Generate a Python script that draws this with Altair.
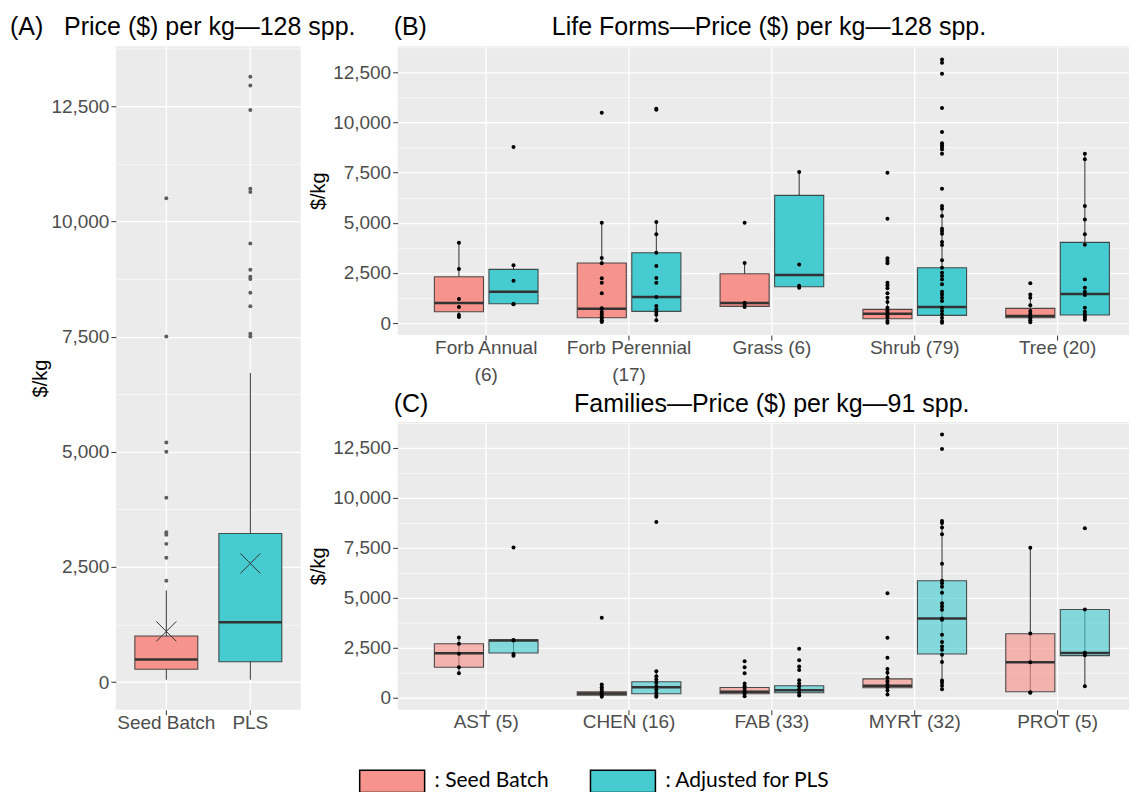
import altair as alt
import pandas as pd

FONT = "Liberation Sans"
GROUPS = ["Seed Batch", "PLS"]
FILLS = ["#F5938C", "#46CCD0"]
Y_TICKS = [0, 1250, 2500, 3750, 5000, 6250, 7500, 8750, 10000, 11250, 12500, 13750]
Y_DOMAIN = [-600, 13800]

# ---------------- Panel A: all species ----------------
A_Q1 = [280, 440]
A_MED = [490, 1300]
A_Q3 = [1000, 3225]
A_LO = [50, 50]
A_HI = [1990, 6710]
A_MEAN = [1100, 2575]
A_SEED_OUT = [2200, 2700, 3000, 3200, 3250, 4000, 5000, 5200, 7500, 10500]
A_PLS_OUT = [7500, 7560, 8160, 8450, 8750, 8800, 8950, 9520, 10640, 10710, 12420, 12950, 13140]

# ---------------- Panel B: life forms ----------------
LIFE_FORMS = ["Forb Annual (6)", "Forb Perennial (17)", "Grass (6)", "Shrub (79)", "Tree (20)"]
B_SEED_Q1 = [563, 264, 831, 216, 266]
B_SEED_MED = [1000, 713, 997, 465, 349]
B_SEED_Q3 = [2309, 2992, 2458, 682, 731]
B_SEED_LO = [300, 50, 798, 17, 33]
B_SEED_HI = [4000, 5000, 2992, 1263, 1263]
B_PLS_Q1 = [962, 583, 1811, 382, 399]
B_PLS_MED = [1561, 1296, 2393, 798, 1446]
B_PLS_Q3 = [2677, 3505, 6367, 2759, 4024]
B_PLS_LO = [932, 133, 1762, 17, 166]
B_PLS_HI = [2876, 5036, 7529, 5834, 8443]
B_SEED_PTS = [
    [4000, 2700, 1200, 800, 400, 300],
    [10486, 5000, 3241, 2976, 2229, 2010, 1481, 733, 563, 432, 300, 264, 133, 100, 50],
    [5000, 2992, 1012, 912, 798],
    [7494, 5201, 3226, 3091, 2977, 2010, 1880, 1730, 1481, 1263, 1047, 763, 650, 598, 500,
     432, 350, 264, 100, 17],
    [1978, 1429, 1263, 881, 598, 465, 349, 234, 133, 33],
]
B_PLS_PTS = [
    [8775, 2876, 2109, 950, 932],
    [10686, 10636, 5036, 4422, 3505, 2842, 2244, 2010, 1296, 848, 683, 548, 414, 133],
    [7529, 2925, 1861, 1762],
    [13148, 12981, 12432, 10720, 9523, 8960, 8860, 8775, 8660, 8443, 6697, 5834, 5700, 5335,
     4703, 4587, 4454, 4039, 3889, 3125, 2759, 2509, 2343, 2177, 1928, 1562, 1429, 1263,
     1097, 763, 598, 432, 264, 100, 17],
    [8443, 8162, 5834, 5169, 4422, 3905, 2177, 1762, 1562, 1396, 763, 563, 432, 349, 264, 166],
]

# ---------------- Panel C: families ----------------
FAMILIES = ["AST (5)", "CHEN (16)", "FAB (33)", "MYRT (32)", "PROT (5)"]
C_SEED_Q1 = [1524, 131, 199, 498, 299]
C_SEED_MED = [2221, 214, 299, 597, 1773]
C_SEED_Q3 = [2704, 299, 513, 946, 3202]
C_SEED_LO = [1225, 50, 80, 164, 249]
C_SEED_HI = [3018, 528, 712, 1444, 7500]
C_PLS_Q1 = [2241, 199, 249, 2191, 2107]
C_PLS_MED = [2869, 528, 380, 3964, 2241]
C_PLS_Q3 = [2903, 797, 597, 5857, 4412]
C_PLS_LO = [2107, 50, 115, 428, 578]
C_PLS_HI = [2903, 1325, 877, 8845, 4412]
C_SEED_PTS = [
    [3018, 2704, 2206, 1524, 1225],
    [3999, 662, 528, 413, 314, 214, 115, 50],
    [1823, 1524, 1225, 712, 578, 448, 329, 214, 80],
    [5229, 3003, 2007, 1444, 1245, 996, 827, 662, 528, 364, 164],
    [7500, 3217, 1773, 279, 249],
]
C_PLS_PTS = [
    [7520, 2888, 2870, 2191, 2107],
    [8795, 1325, 1076, 911, 747, 578, 413, 249, 115, 50],
    [2455, 1873, 1559, 1394, 877, 712, 578, 413, 249, 115],
    [13177, 12450, 8845, 8745, 8516, 8182, 6703, 5857, 5724, 5558, 5259, 4731, 4565, 4398,
     3964, 3899, 3152, 2789, 2570, 2405, 2156, 1793, 862, 747, 598, 428],
    [8481, 4412, 2256, 2122, 578],
]


def box_table(cats, seed, pls):
    rows = []
    for i, c in enumerate(cats):
        for g, st in zip(GROUPS, (seed, pls)):
            rows.append({"cat": c, "grp": g, "q1": st[0][i], "med": st[1][i],
                         "q3": st[2][i], "lo": st[3][i], "hi": st[4][i]})
    return pd.DataFrame(rows)


def point_table(cats, seed_pts, pls_pts):
    rows = []
    for i, c in enumerate(cats):
        for g, pts in zip(GROUPS, (seed_pts, pls_pts)):
            for v in pts[i]:
                rows.append({"cat": c, "grp": g, "value": v})
    return pd.DataFrame(rows)


color_scale = alt.Scale(domain=GROUPS, range=FILLS)
major = "datum.value % 2500 === 0"


def make_y_axis(title_padding):
    return alt.Axis(
        title="$/kg", values=Y_TICKS,
        labelExpr=f"{major} ? format(datum.value, ',') : ''",
        grid=True, gridColor="white",
        gridWidth={"condition": {"test": major, "value": 1.3}, "value": 0.6},
        tickOpacity={"condition": {"test": major, "value": 1}, "value": 0},
        titlePadding=title_padding,
    )


def yenc(field, axis):
    return alt.Y(f"{field}:Q", scale=alt.Scale(domain=Y_DOMAIN, nice=False, zero=False),
                 axis=axis)


# ---------------- build panel A ----------------
a_box = pd.DataFrame({"grp": GROUPS, "q1": A_Q1, "med": A_MED, "q3": A_Q3,
                      "lo": A_LO, "hi": A_HI, "mean": A_MEAN})
a_pts = pd.DataFrame({"grp": ["Seed Batch"] * len(A_SEED_OUT) + ["PLS"] * len(A_PLS_OUT),
                      "value": A_SEED_OUT + A_PLS_OUT})

legend = alt.Legend(
    title=None, orient="none", legendX=243, legendY=702, direction="horizontal",
    symbolType="M-1,-0.34H1V0.34H-1Z", symbolSize=4225, symbolStrokeColor="black",
    symbolStrokeWidth=1.5, symbolOpacity=1, labelFont="Lato", labelFontSize=21,
    labelColor="black", labelOffset=9, columnPadding=38, labelLimit=0,
    labelExpr="datum.label === 'Seed Batch' ? ': Seed Batch' : ': Adjusted for PLS'",
)

yA = make_y_axis(0)
xA = alt.X("grp:N", sort=GROUPS, scale=alt.Scale(paddingInner=0, paddingOuter=0.1),
           axis=alt.Axis(title=None, labelAngle=0, grid=True, gridColor="white", gridWidth=1.3,
                         labelPadding=-1))
baseA = alt.Chart(a_box).encode(x=xA)
whiskA = baseA.mark_rule(color="#333333", strokeWidth=1).encode(y=yenc("lo", yA), y2="hi")
boxA = baseA.mark_bar(size=63, stroke="#333333", strokeWidth=1.1, strokeOpacity=0.85).encode(
    y=yenc("q1", yA), y2="q3", color=alt.Color("grp:N", scale=color_scale, legend=legend))
medA = baseA.mark_tick(size=63, thickness=2.5, color="#333333", opacity=1).encode(
    y=yenc("med", yA))
meanA = baseA.mark_point(shape="M-1,-1L1,1M-1,1L1,-1", size=400, color="#333333",
                         strokeWidth=1, filled=False, opacity=1).encode(y=yenc("mean", yA))
outA = alt.Chart(a_pts).mark_circle(color="#5E5E5E", size=16, opacity=1).encode(
    x=xA, y=yenc("value", yA))

NB = "\u00a0"
panelA = alt.layer(whiskA, boxA, medA, meanA, outA).properties(
    width=185, height=664,
    title=alt.TitleParams("(A)" + NB * 3 + "Price ($) per kg\u2014128 spp.", anchor="start",
                          frame="group", dx=-106, offset=6),
)


def grouped_panel(box_df, pts_df, cats, title, fill_opacity, label_expr, height, toff):
    ax_kw = dict(title=None, labelAngle=0, grid=True, gridColor="white", gridWidth=1.3,
                 labelPadding=-2)
    if label_expr:
        ax_kw.update(labelExpr=label_expr, labelLineHeight=27)
    yax = make_y_axis(4)
    x = alt.X("cat:N", sort=cats, scale=alt.Scale(paddingInner=0, paddingOuter=0.06, align=1),
              axis=alt.Axis(**ax_kw))
    xo = alt.XOffset("grp:N", sort=GROUPS,
                     scale=alt.Scale(domain=GROUPS, paddingInner=0.1, paddingOuter=0.359))
    base = alt.Chart(box_df).encode(x=x, xOffset=xo)
    whisk = base.mark_rule(color="#333333", strokeWidth=1).encode(y=yenc("lo", yax), y2="hi")
    box = base.mark_bar(stroke="#333333", strokeWidth=1.1, strokeOpacity=0.85,
                        fillOpacity=fill_opacity).encode(
        y=yenc("q1", yax), y2="q3", color=alt.Color("grp:N", scale=color_scale, legend=None))
    med = base.mark_tick(size=49, thickness=2.5, color="#333333", opacity=1).encode(
        y=yenc("med", yax))
    pts = alt.Chart(pts_df).mark_circle(color="black", size=16, opacity=1).encode(
        x=x, xOffset=xo, y=yenc("value", yax))
    return alt.layer(whisk, box, med, pts).properties(
        width=732, height=height,
        title=alt.TitleParams(title, anchor="start", frame="group", dx=-4, offset=toff))


b_box = box_table(LIFE_FORMS, (B_SEED_Q1, B_SEED_MED, B_SEED_Q3, B_SEED_LO, B_SEED_HI),
                  (B_PLS_Q1, B_PLS_MED, B_PLS_Q3, B_PLS_LO, B_PLS_HI))
b_pts = point_table(LIFE_FORMS, B_SEED_PTS, B_PLS_PTS)
c_box = box_table(FAMILIES, (C_SEED_Q1, C_SEED_MED, C_SEED_Q3, C_SEED_LO, C_SEED_HI),
                  (C_PLS_Q1, C_PLS_MED, C_PLS_Q3, C_PLS_LO, C_PLS_HI))
c_pts = point_table(FAMILIES, C_SEED_PTS, C_PLS_PTS)

panelB = grouped_panel(
    b_box, b_pts, LIFE_FORMS,
    "(B)" + NB * 18 + "Life Forms\u2014Price ($) per kg\u2014128 spp.", 1.0,
    "indexof(datum.label, 'Forb') === 0 ? split(replace(datum.label, ' (', '|('), '|') : datum.label",
    289, 6)
panelC = grouped_panel(
    c_box, c_pts, FAMILIES,
    "(C)" + NB * 21 + "Families\u2014Price ($) per kg\u201491 spp.", 0.64, None, 288, 5)

right = alt.vconcat(panelB, panelC, spacing=87, bounds="flush").resolve_scale(
    x="independent", y="independent", xOffset="independent")

chart = (
    alt.hconcat(panelA, right, spacing=97, bounds="flush")
    .resolve_scale(x="independent", y="independent", xOffset="independent")
    .resolve_legend(color="independent")
    .properties(padding={"left": 2, "top": 7, "right": 0, "bottom": 0})
    .configure_view(fill="#EBEBEB", stroke=None)
    .configure_axis(labelFont=FONT, labelFontSize=19, labelColor="#4D4D4D", titleFont=FONT,
                    titleFontSize=20, titleColor="black", titleFontWeight="normal",
                    tickColor="#333333", tickSize=5, domain=False, labelPadding=2)
    .configure_title(font=FONT, fontSize=25, fontWeight="normal", color="black")
)

chart.save("out.html", embed_options={"renderer": "svg", "actions": False})
